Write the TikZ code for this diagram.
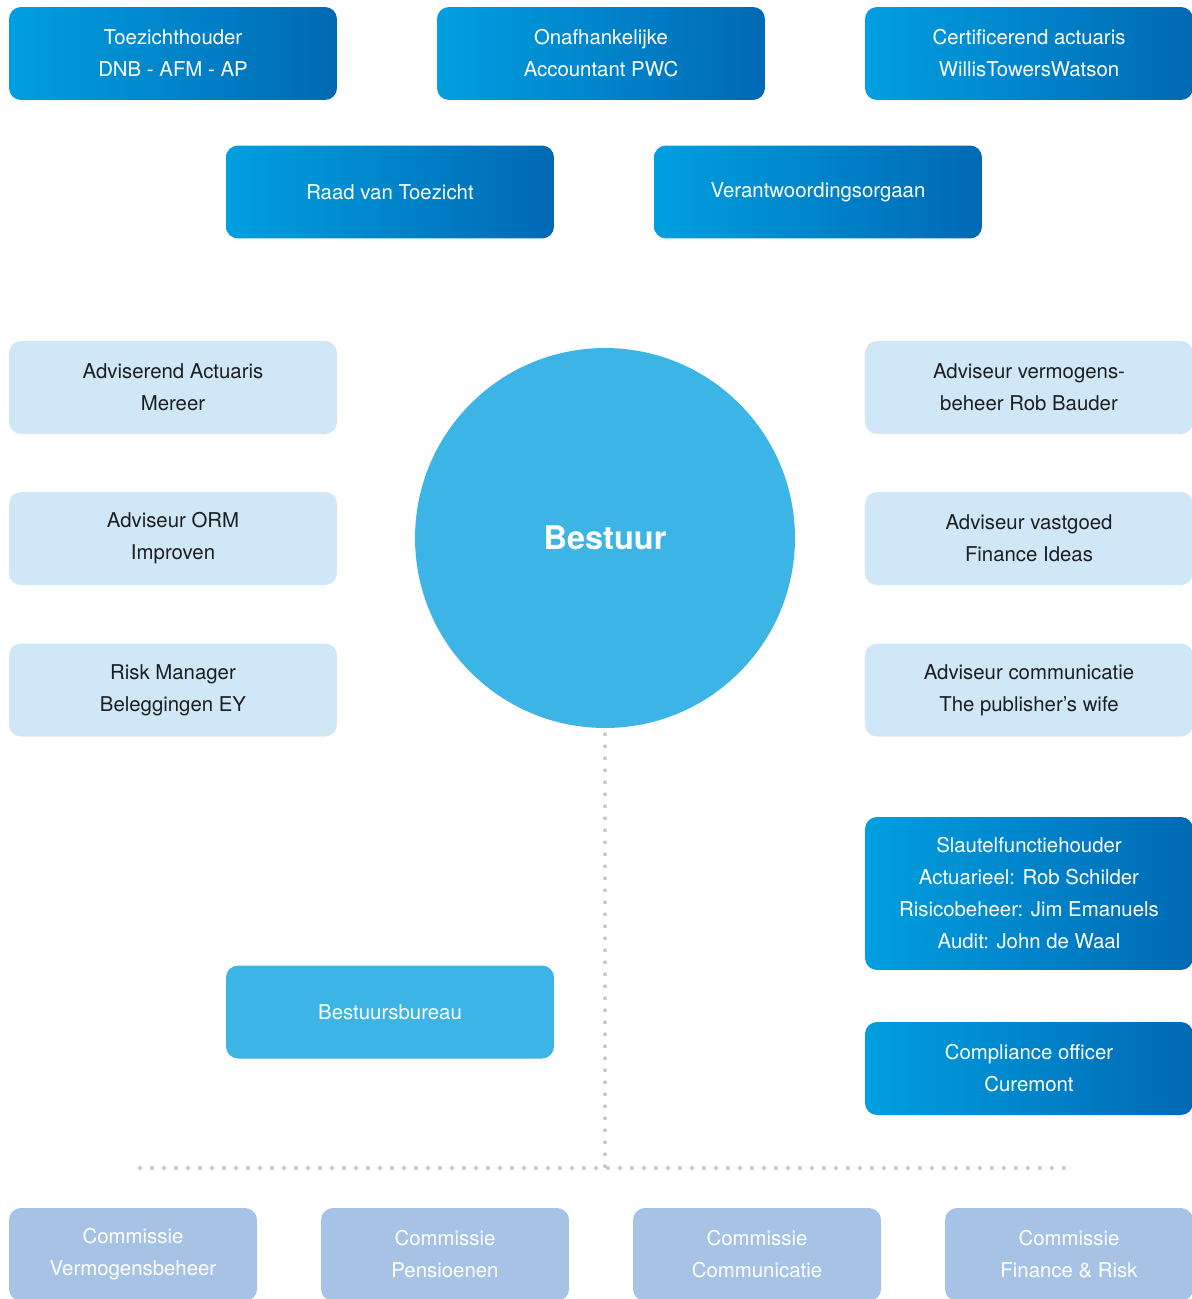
\documentclass[tikz,border=0pt]{standalone}
\usepackage{fontspec}
\setmainfont{TeX Gyre Heros}
\usepackage{tikz}
\usetikzlibrary{positioning, calc}
\definecolor{bluedark}{HTML}{0069B4}
\definecolor{bluelight}{HTML}{009FE0}
\definecolor{bluemid}{HTML}{3DB4E6}
\definecolor{bluesoft}{HTML}{D0E7F8}
\definecolor{bluegrey}{HTML}{A6C3E6}
\definecolor{dotgrey}{HTML}{C8C8C8}
\definecolor{inkdark}{HTML}{1E1E1E}
\tikzset{
  font=\fontsize{11.6}{18.2}\selectfont,
  box/.style={
    rounded corners=0.24cm, draw=none, align=center,
    minimum width=6.56cm, minimum height=1.86cm, inner sep=0pt
  },
  toezicht/.style={box, left color=bluelight, right color=bluedark, text=white},
  advies/.style={box, fill=bluesoft, text=inkdark},
  commissie/.style={box, fill=bluegrey, text=white, minimum width=4.96cm},
  dotline/.style={draw=dotgrey, line width=0.08cm, line cap=round,
    dash pattern=on 0pt off 0.24cm}
}
\begin{document}
\begin{tikzpicture}[x=0.02cm, y=-0.02cm]
  \clip (0,0) rectangle (1192,1299);
  \fill[white] (0,0) rectangle (1192,1299);
  % toezicht en verantwoording
  \node[toezicht] (tzh) at (173,53.5) {Toezichthouder\\DNB - AFM - AP};
  \node[toezicht] (pwc) at (601,53.5) {Onafhankelijke\\Accountant PWC};
  \node[toezicht] (cert) at (1029,53.5) {Certificerend actuaris\\WillisTowersWatson};
  \node[toezicht] (rvt) at (390,192) {Raad van Toezicht};
  \node[toezicht] (vo) at (818,192) {Verantwoordingsorgaan};
  % bestuur
  \node[circle, fill=bluemid, minimum size=7.6cm, text=white,
    font=\fontsize{18.5}{20}\selectfont\bfseries] (bestuur) at (605,538) {Bestuur};
  % adviseurs
  \node[advies] (actuaris) at (173,387.5) {Adviserend Actuaris\\Mereer};
  \node[advies] (orm) at (173,538.5) {Adviseur ORM\\Improven};
  \node[advies] (risk) at (173,690) {Risk Manager\\Beleggingen EY};
  \node[advies] (vermogen) at (1029,387.5) {Adviseur vermogens-\\beheer Rob Bauder};
  \node[advies] (vastgoed) at (1029,538.5) {Adviseur vastgoed\\Finance Ideas};
  \node[advies] (comm) at (1029,690) {Adviseur communicatie\\The publisher's wife};
  % sleutelfuncties
  \node[toezicht, minimum height=3.06cm] (sfh) at (1029,893.5)
    {Slautelfunctiehouder\\Actuarieel: Rob Schilder\\Risicobeheer: Jim Emanuels\\Audit: John de Waal};
  \node[toezicht] (compliance) at (1029,1068.5) {Compliance officer\\Curemont};
  \node[box, fill=bluemid, text=white] (bureau) at (390,1012) {Bestuursbureau};
  % commissies
  \node[commissie] (cvb) at (133,1254.5) {Commissie\\Vermogensbeheer};
  \node[commissie] (cpens) at (445,1254.5) {Commissie\\Pensioenen};
  \node[commissie] (ccomm) at (757,1254.5) {Commissie\\Communicatie};
  \node[commissie] (cfr) at (1069,1254.5) {Commissie\\Finance \& Risk};
  % stippellijnen
  \coordinate (knoop) at (605,1168);
  \coordinate (links) at (140,1168);
  \coordinate (rechts) at (1074,1168);
  \draw[dotline] ($(bestuur.south)+(0,6)$) -- (knoop);
  \draw[dotline] (links) -- (rechts);
\end{tikzpicture}
\end{document}
